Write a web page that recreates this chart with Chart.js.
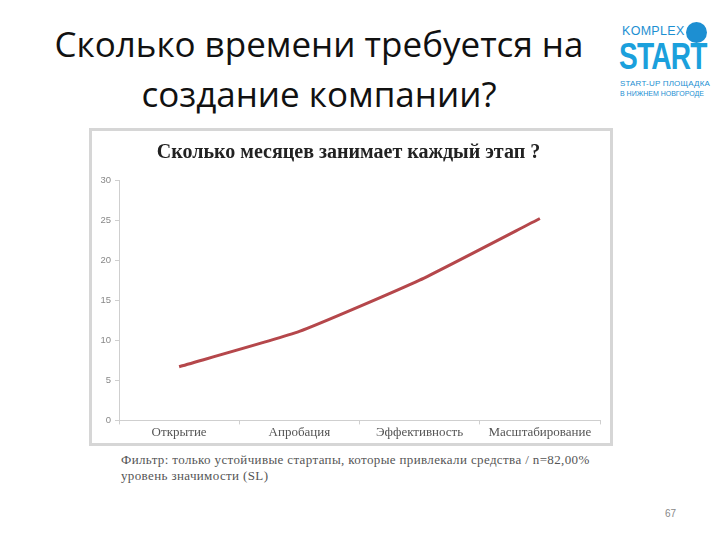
<!DOCTYPE html>
<html><head><meta charset="utf-8">
<script src="https://cdn.jsdelivr.net/npm/chart.js@4/dist/chart.umd.min.js"></script>
<style>
html,body{margin:0;padding:0;background:#fff;}
#page{position:relative;width:720px;height:540px;overflow:hidden;background:#fff;}
#title{position:absolute;left:0;width:638px;top:19px;text-align:center;font-family:"Open Sans",sans-serif;font-size:35px;line-height:50px;color:#111;}
#frame{position:absolute;left:89px;top:128px;width:518px;height:312px;border:3px solid #d6d6d6;background:#fff;}
#wrap{position:absolute;left:0;top:0;width:518px;height:312px;}
#foot{position:absolute;left:121px;top:452px;font-family:"Liberation Serif",serif;font-size:13px;letter-spacing:0.37px;line-height:16px;color:#555;}
#pg{position:absolute;left:665px;top:508px;font-family:"Liberation Sans",sans-serif;font-size:10px;color:#888;}
.logo{position:absolute;font-family:"Liberation Sans",sans-serif;color:#1d8fd2;white-space:nowrap;}
</style></head>
<body><div id="page">
<div id="title">Сколько времени требуется на<br>создание компании?</div>
<div class="logo" style="left:622px;top:24px;font-size:12.5px;letter-spacing:0.3px;">KOMPLEX</div>
<div class="logo" style="left:686px;top:22px;width:21px;height:21px;border-radius:50%;background:#1d8fd2;"></div>
<div class="logo" style="left:619px;top:36px;font-size:36px;font-weight:bold;color:#1ba0dc;letter-spacing:-1px;transform:scaleX(0.78);transform-origin:0 0;">START</div>
<div class="logo" style="left:620px;top:79px;font-size:8px;letter-spacing:0.2px;">START-UP ПЛОЩАДКА</div>
<div class="logo" style="left:620px;top:90px;font-size:7px;">В НИЖНЕМ НОВГОРОДЕ</div>
<div id="frame"><div id="wrap"><canvas id="c"></canvas></div></div>
<div id="foot">Фильтр: только устойчивые стартапы, которые привлекали средства / n=82,00%<br>уровень значимости (SL)</div>
<div id="pg">67</div>
</div>
<script>
const categories = ["Открытие", "Апробация", "Эффективность", "Масштабирование"];
const months = [6.7, 11.1, 17.5, 25.2];
const yTicks = [0, 5, 10, 15, 20, 25, 30];
const chartTitle = "Сколько месяцев занимает каждый этап ?";

new Chart(document.getElementById('c'), {
  type: 'line',
  data: { labels: categories, datasets: [{ data: months, borderColor: '#b5474b', borderWidth: 3, pointRadius: 0, tension: 0.15, fill: false }] },
  options: {
    responsive: true, maintainAspectRatio: false, animation: false,
    layout: { padding: { left: 5, right: 10, top: 0, bottom: 3 } },
    plugins: {
      legend: { display: false }, tooltip: { enabled: false },
      title: { display: true, text: chartTitle, color: '#222', font: { family: 'Liberation Serif', size: 20, weight: 'bold' }, padding: { top: 10, bottom: 15 } }
    },
    scales: {
      x: {
        offset: true,
        grid: { display: true, drawOnChartArea: false, offset: true, tickLength: 4, color: '#cfcfcf' },
        border: { color: '#cfcfcf' },
        ticks: { color: '#555', font: { family: 'Liberation Serif', size: 13 }, padding: 0 }
      },
      y: {
        min: 0, max: 30,
        afterBuildTicks: s => { s.ticks = yTicks.map(v => ({ value: v })); },
        afterFit: s => { s.width = 22; },
        grid: { display: true, drawOnChartArea: false, tickLength: 4, color: '#cfcfcf' },
        border: { color: '#cfcfcf' },
        ticks: { color: '#888', font: { family: 'Liberation Sans', size: 9.5 }, padding: 4 }
      }
    }
  }
});
</script>
</body></html>
